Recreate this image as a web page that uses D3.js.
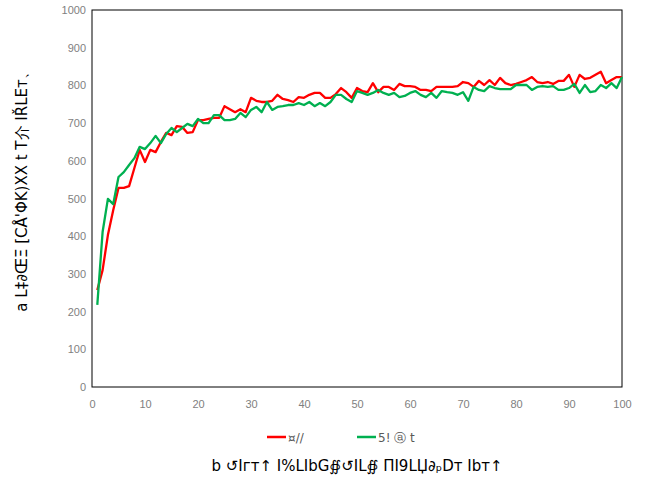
<!DOCTYPE html>
<html>
<head>
<meta charset="utf-8">
<script src="https://cdn.jsdelivr.net/npm/d3@7"></script>
<style>
  html, body { margin: 0; padding: 0; background: #fff; }
  svg { display: block; font-family: "DejaVu Sans", "Noto Sans", sans-serif; }
</style>
</head>
<body>
<svg id="chart" width="659" height="482"></svg>
<script>
// Episode index (1..100)
const episodes = d3.range(1, 101);

const seriesNames = ["¤//", "5! ⓐ t"];
const seriesColors = ["#ff0000", "#00b050"];

const redValues = [
  257, 310, 403, 469, 528, 528, 533, 581, 629, 597,
  629, 623, 650, 674, 668, 692, 690, 674, 676, 708,
  708, 711, 714, 714, 745, 737, 729, 737, 729, 767,
  759, 756, 756, 759, 775, 764, 761, 756, 769, 767,
  775, 780, 780, 767, 767, 777, 793, 782, 767, 793,
  785, 782, 806, 782, 796, 796, 788, 804, 798, 798,
  796, 788, 788, 785, 796, 796, 796, 796, 798, 809,
  806, 796, 812, 801, 814, 801, 820, 806, 801, 804,
  809, 814, 822, 809, 806, 809, 804, 812, 812, 828,
  796, 828, 817, 820, 828, 836, 806, 814, 822, 822
];

const greenValues = [
  218, 411, 499, 485, 557, 570, 589, 607, 637, 631,
  647, 666, 647, 671, 687, 676, 687, 698, 692, 711,
  700, 700, 721, 721, 708, 708, 711, 727, 716, 735,
  743, 729, 756, 735, 743, 745, 748, 748, 753, 748,
  756, 745, 753, 745, 756, 775, 775, 764, 756, 785,
  780, 775, 780, 788, 780, 775, 780, 769, 772, 780,
  785, 775, 769, 780, 767, 785, 782, 780, 775, 782,
  759, 796, 788, 785, 798, 793, 790, 790, 790, 801,
  801, 801, 788, 796, 798, 796, 798, 788, 788, 793,
  804, 780, 801, 782, 785, 801, 793, 806, 793, 822
];

const xTicks = [0, 10, 20, 30, 40, 50, 60, 70, 80, 90, 100];
const yTicks = [0, 100, 200, 300, 400, 500, 600, 700, 800, 900, 1000];

const xTitle = "b ↺Iгт↑ I%LIbG∯↺IL∯ ΠI9LЏ∂ₚDт Ibт↑";
const yTitle = "a L‡∂ŒΞ [CÅ'ΦK)XX   t T介 IŘLEт、";

const svg = d3.select("#chart");
const margin = { left: 92, right: 37, top: 10, bottom: 95 };
const W = 659, H = 482;

const x = d3.scaleLinear().domain([0, 100]).range([margin.left, W - margin.right]);
const y = d3.scaleLinear().domain([0, 1000]).range([H - margin.bottom, margin.top]);

// axes: labels only, no tick marks
const xAxis = d3.axisBottom(x).tickValues(xTicks).tickFormat(d3.format("d"))
  .tickSize(0).tickPadding(13);
const yAxis = d3.axisLeft(y).tickValues(yTicks).tickFormat(d3.format("d"))
  .tickSize(0).tickPadding(6);

const gx = svg.append("g").attr("transform", `translate(0,${y(0)})`).call(xAxis);
const gy = svg.append("g").attr("transform", `translate(${x(0)},0)`).call(yAxis);
[gx, gy].forEach(g => {
  g.select(".domain").remove();
  g.selectAll("text").attr("fill", "#7f7f7f").style("font-size", "11px");
});

// plot frame
svg.append("rect")
  .attr("x", x(0)).attr("y", y(1000))
  .attr("width", x(100) - x(0)).attr("height", y(0) - y(1000))
  .attr("fill", "none").attr("stroke", "#000").attr("stroke-width", 1);

const line = d3.line().x((d, i) => x(episodes[i])).y(d => y(d));

[redValues, greenValues].forEach((vals, k) => {
  svg.append("path")
    .datum(vals)
    .attr("d", line)
    .attr("fill", "none")
    .attr("stroke", seriesColors[k])
    .attr("stroke-width", 2.3)
    .attr("stroke-linejoin", "round");
});

// legend
const legendX = [267, 357];
seriesNames.forEach((name, k) => {
  const g = svg.append("g").attr("transform", `translate(${legendX[k]},437)`);
  g.append("line").attr("x1", 0).attr("x2", 19).attr("y1", 0).attr("y2", 0)
    .attr("stroke", seriesColors[k]).attr("stroke-width", 2.5);
  g.append("text").attr("x", 21).attr("y", 4.5)
    .attr("fill", "#595959").style("font-size", "12px").text(name);
});

// axis titles
svg.append("text")
  .attr("x", (x(0) + x(100)) / 2).attr("y", 471)
  .attr("text-anchor", "middle").attr("fill", "#000")
  .style("font-size", "15px").text(xTitle);

svg.append("text")
  .attr("transform", `translate(27,188) rotate(-90)`)
  .attr("text-anchor", "middle").attr("fill", "#000")
  .style("font-size", "15px").text(yTitle);
</script>
</body>
</html>
